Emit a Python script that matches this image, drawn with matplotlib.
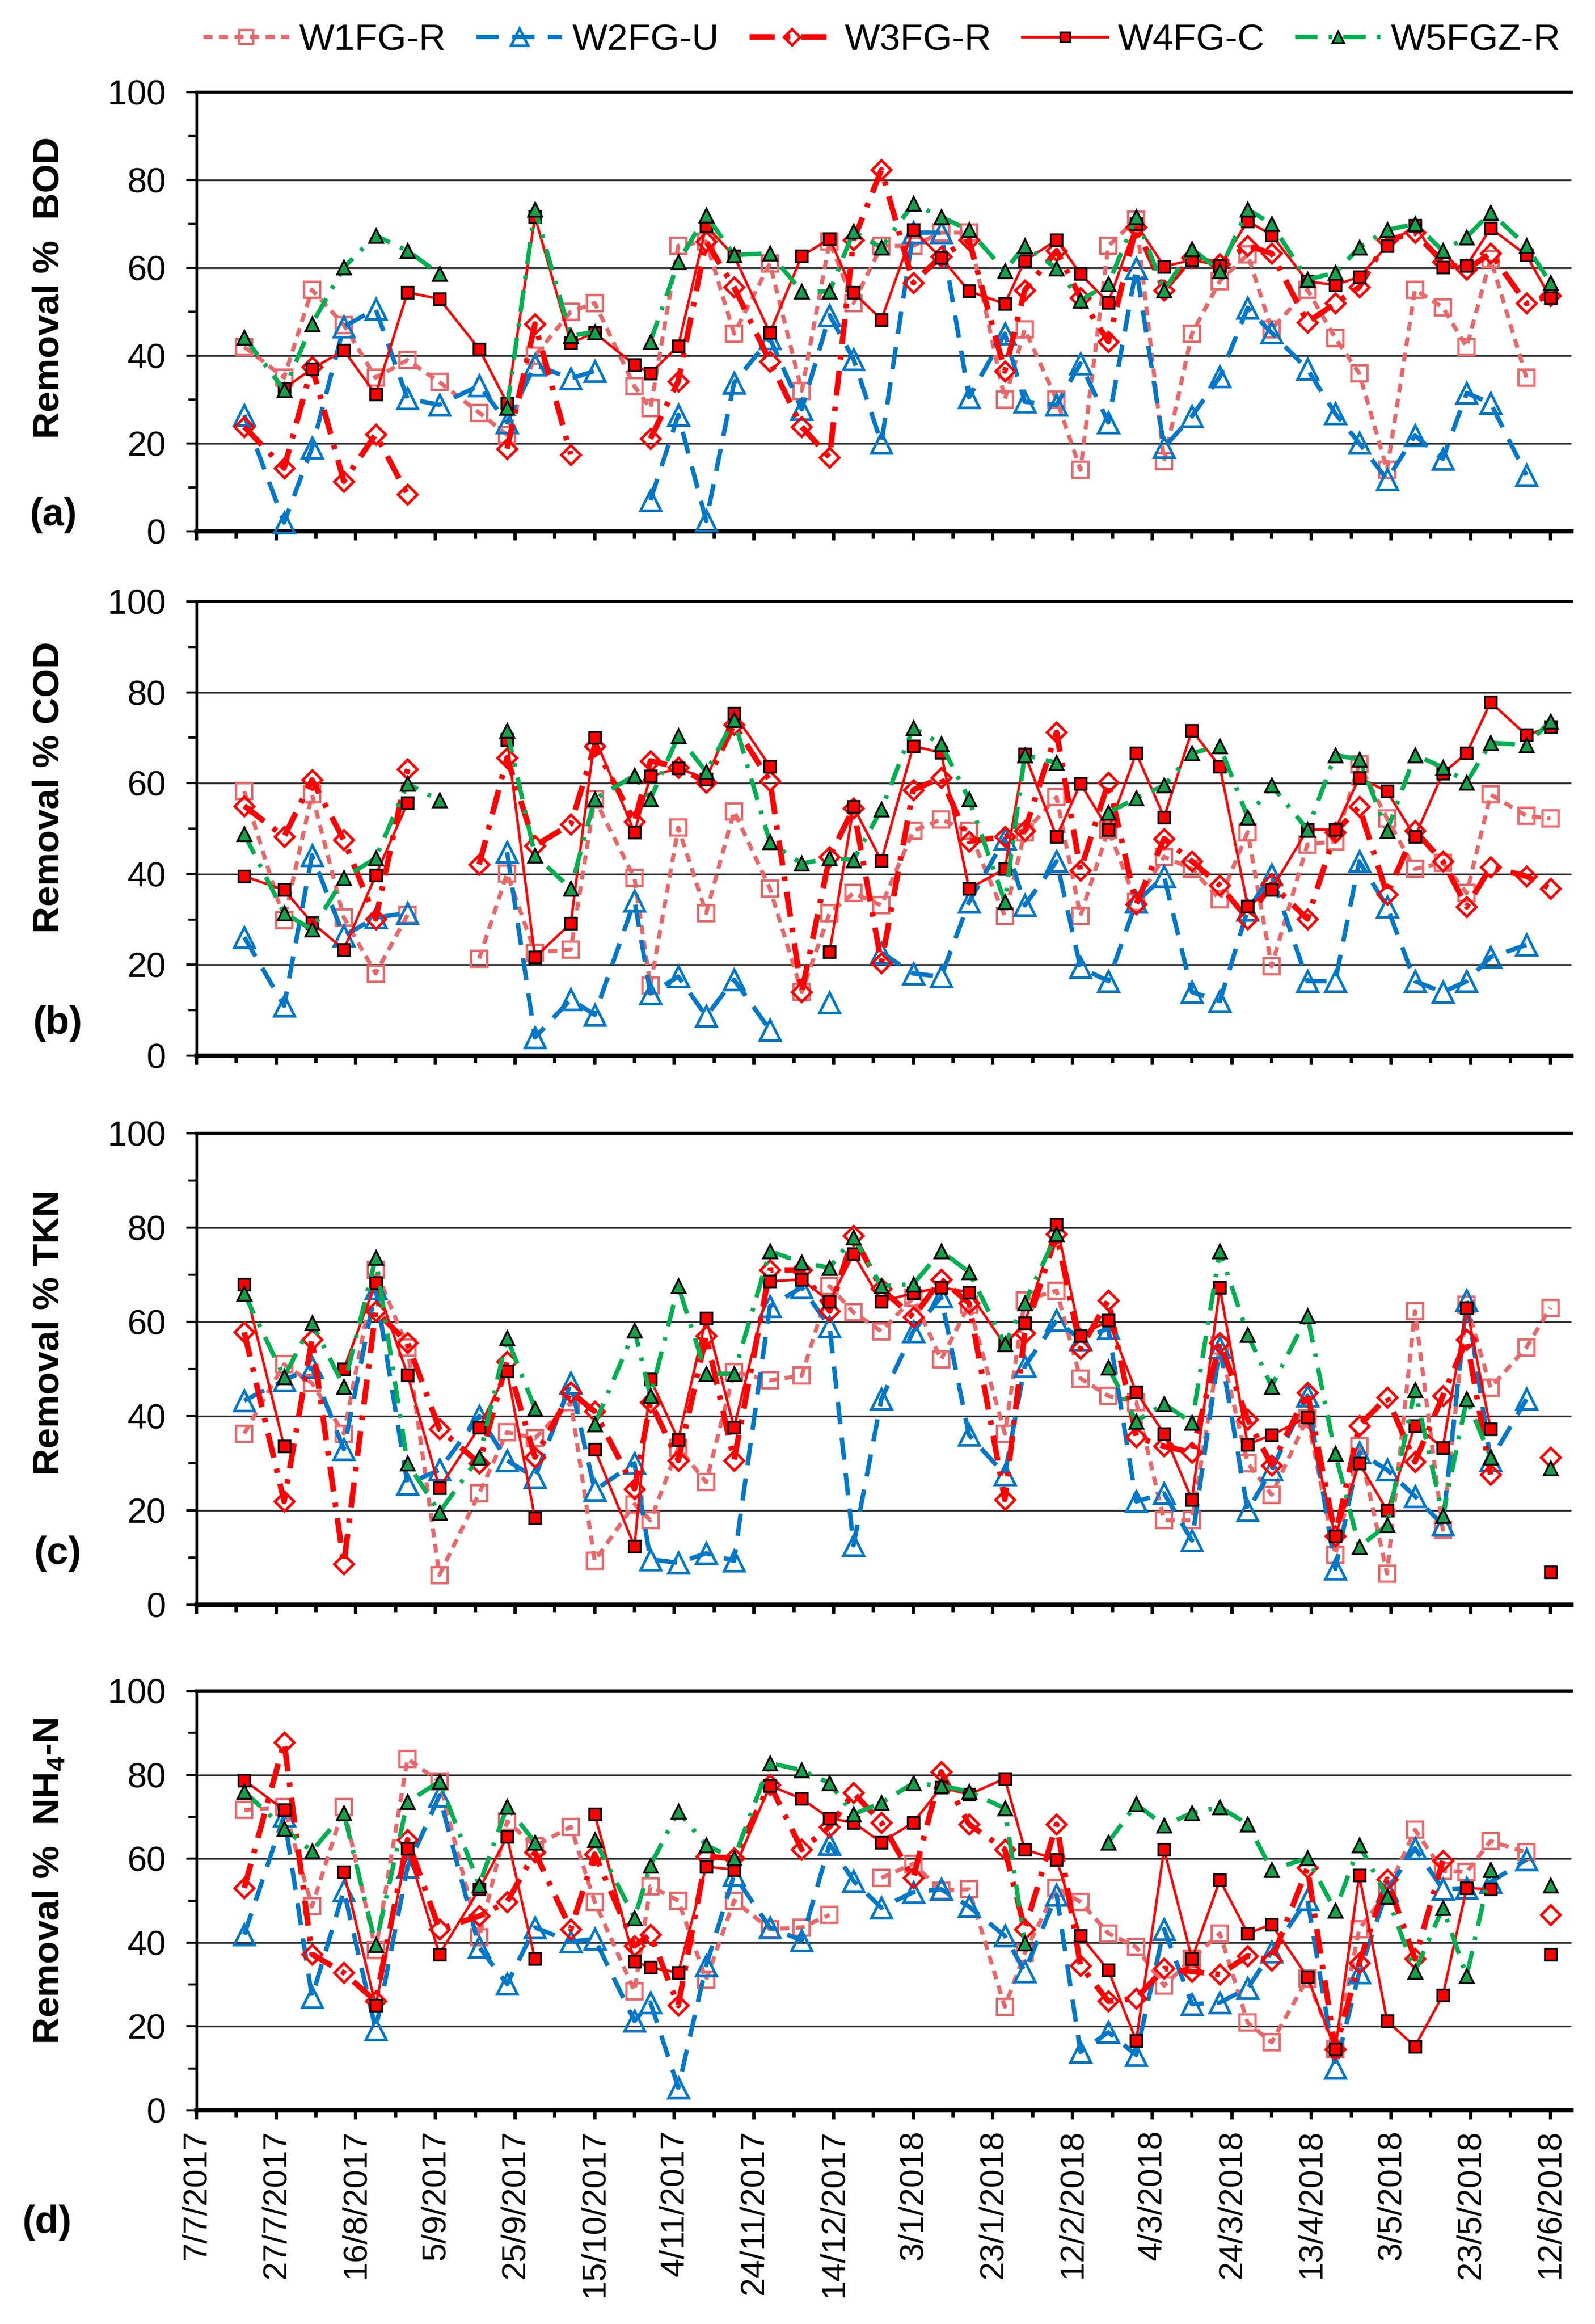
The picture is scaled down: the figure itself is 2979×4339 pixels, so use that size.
import numpy as np
import matplotlib
matplotlib.use('Agg')
import matplotlib.pyplot as plt
import matplotlib.dates as mdates
from matplotlib.ticker import FixedLocator, MultipleLocator, NullFormatter
from datetime import datetime, timedelta

plt.rcParams['font.family'] = ['Liberation Sans', 'DejaVu Sans']
plt.rcParams['mathtext.fontset'] = 'custom'
plt.rcParams['mathtext.rm'] = 'Liberation Sans'
plt.rcParams['mathtext.bf'] = 'Liberation Sans:bold'

nan = np.nan

# ---------------- data ----------------
dates = ['2017-07-19', '2017-07-29', '2017-08-05', '2017-08-13', '2017-08-21', '2017-08-29',
         '2017-09-06', '2017-09-16', '2017-09-23', '2017-09-30', '2017-10-09', '2017-10-15',
         '2017-10-25', '2017-10-29', '2017-11-05', '2017-11-12', '2017-11-19', '2017-11-28',
         '2017-12-06', '2017-12-13', '2017-12-19', '2017-12-26', '2018-01-03', '2018-01-10',
         '2018-01-17', '2018-01-26', '2018-01-31', '2018-02-08', '2018-02-14', '2018-02-21',
         '2018-02-28', '2018-03-07', '2018-03-14', '2018-03-21', '2018-03-28', '2018-04-03',
         '2018-04-12', '2018-04-19', '2018-04-25', '2018-05-02', '2018-05-09', '2018-05-16',
         '2018-05-22', '2018-05-28', '2018-06-06', '2018-06-12']

series_names = ['W1FG-R', 'W2FG-U', 'W3FG-R', 'W4FG-C', 'W5FGZ-R']

# (a) BOD removal %
bod_w1 = [42, 35, 55, 47, 35, 39, 34, 27, 22, 40, 50, 52, 33, 28, 65, 66, 45, 61, 32, 66, 52, 65,
          65, 68, 68, 30, 46, 30, 14, 65, 71, 16, 45, 57, 63, 46, 55, 44, 36, 14, 55, 51, 42, 62, 35, nan]
bod_w2 = [26.5, 2, 19, 46.6, 50.6, 30.2, 28.8, 33.2, 24.8, 37.9, 34.8, 36.5, nan, 7.1, 26.5, 2.4,
          33.8, 43.9, 27.8, 49.2, 39.2, 20.1, 68, 68, 30.5, 45, 29.5, 28.8, 38.2, 24.8, 59.9, 19.1,
          26.2, 35.2, 50.9, 45.2, 36.9, 26.8, 20.1, 11.8, 21.8, 16.5, 31.5, 29.2, 12.8, nan]
bod_w3 = [23.8, 14.4, 37.5, 11.4, 22.1, 8.4, nan, nan, 18.8, 47.2, 17.5, nan, nan, 21.1, 34.2, 66,
          55.6, 38.7, 23.8, 16.8, 66.3, 82.3, 56.6, 62.6, 66.3, 36.5, 54.9, 63.9, 53.2, 43.2, 69.3,
          54.9, 62.3, 60.9, 65, 63.3, 47.6, 51.9, 55.6, 66.3, 68, 61.3, 59.6, 63.3, 51.9, 53.6]
bod_w4 = [nan, 32.5, 37, 41.2, 31.2, 54.4, 52.9, 41.5, 29.2, 71.6, 42.9, 45.2, 37.9, 36, 42.2, 69.5,
          62.7, 45.2, 62.7, 66.6, 54.4, 48.2, 68.6, 62.3, 54.7, 51.8, 61.6, 66.3, 58.6, 52.1, 70,
          60.3, 61.8, 60.5, 70.6, 67.5, 56.9, 56.1, 57.9, 65, 69.6, 60.1, 60.5, 69, 62.9, 53.2]
bod_w5 = [44.2, 32.2, 47.2, 60.1, 67.3, 63.9, 58.6, nan, 28.2, 73.3, 44.5, 45.4, nan, 43.2, 61.3, 72,
          62.9, 63.3, 54.6, 54.6, 68.3, 64.6, 74.6, 71.6, 68.6, 59.3, 65, 59.9, 52.6, 56.3, 71.6,
          54.9, 64.3, 59.3, 73.3, 70, 57.3, 58.9, 64.6, 68.6, 70, 63.9, 67, 72.6, 65, 56.6]

# (b) COD removal %
cod_w1 = [58.2, 29.8, 57.5, 30.4, 18.1, 31, nan, 21.4, 40.1, 22.7, 23.4, 56.5, 39.1, 15.4, 50.2, 31.4,
          53.8, 36.8, 14, 31.4, 35.8, 33.1, 49.5, 52, 49.5, 30.8, 49.2, 56.9, 30.8, 49.8, 33.8, 43.8,
          41.1, 34.4, 49.2, 19.7, 46.5, 47.2, 64.2, 52.2, 41.1, 42.5, 35.8, 57.5, 52.8, 52.2]
cod_w2 = [26.1, 11, 44.1, 26.4, 30.4, 31.4, nan, nan, 44.8, 4, 12.4, 9, 34.1, 13.7, 17.4, 8.7, 16.7,
          5.7, nan, 11.7, nan, 22.7, 18.1, 17.4, 33.8, 47.8, 33.1, 42.8, 19.4, 16.4, 33.8, 39.5, 14,
          12, 32.1, 39.8, 16.4, 16.4, 42.8, 32.8, 16.4, 14, 16.4, 21.7, 24.4, nan]
cod_w3 = [55, 48.2, 60.7, 47.5, 30.1, 63.1, nan, 42.1, 65.6, 46.2, 51, 68.2, 51.5, 64.9, 63.5, 60.2,
          72.9, 60.5, 14, 43.8, 54.5, 20.4, 58.5, 61.2, 47.2, 48.2, 49.5, 71.2, 40.8, 60.2, 33.4,
          47.8, 42.8, 37.5, 30.1, 37.8, 30.1, 49.2, 54.8, 35.5, 49.5, 42.8, 32.8, 41.5, 39.5, 36.8]
cod_w4 = [39.5, 36.5, 29.3, 23.4, 39.7, 55.7, nan, nan, 69.6, 21.7, 29.1, 70, 49.2, 61.5, 63.3, 60.9,
          75.3, 63.7, nan, 22.9, 54.8, 42.9, 68.2, 66.7, 36.8, 41.1, 66.4, 48.2, 59.9, 49.8, 66.6,
          52.5, 71.6, 63.7, 32.9, 36.6, 49.8, 49.8, 61.2, 58.2, 48.2, 62.2, 66.6, 77.8, 70.6, 72.4]
cod_w5 = [48.8, 31.4, 27.8, 39.1, 43.5, 59.9, 56.2, nan, 71.6, 44.1, 36.8, 56.5, 61.7, 56.5, 70.4,
          62.5, 73.9, 47, 42.3, 43.5, 43.1, 54.2, 72.2, 68.6, 56.5, 33.9, 66.2, 64.5, nan, 53.5,
          56.7, 59.5, 66.6, 68.2, 52.5, 59.5, 49.8, 66.2, 65.2, 49.5, 66.2, 63.5, 60.2, 68.9, 68.4, 73.6]

# (c) TKN removal %
tkn_w1 = [36.3, 51, 47, 36.3, 71, 54.6, 6.3, 23.6, 36.6, 35.3, 43, 9.3, 21.3, 17.9, 33.3, 26, 49.3,
          47.6, 48.6, 67.6, 62, 58, 65.1, 52, 63.6, 36.3, 64.6, 66.6, 48, 44.3, 43, 17.9, 17.9, 55,
          30, 23.3, 39.6, 10.6, 33.6, 6.6, 62.3, 15.9, 63.6, 46, 54.6, 63]
tkn_w2 = [43.3, 47.6, 50.3, 33, 67, 25.6, 28.6, 40, 30.6, 27, 47, 24.3, 30, 9.6, 8.9, 10.9, 9.3,
          63.3, 67.3, 59, 12.6, 43.6, 58, 65.3, 36, 27.6, 50.6, 60.3, 56.3, 58.6, 21.9, 23.6, 13.6,
          54.6, 20, 28.6, 44.3, 7.6, 32.3, 28.6, 23, 16.9, 64.6, 30.6, 43.6, nan]
tkn_w3 = [57.8, 21.9, 56.3, 8.6, 62.3, 55.6, 37.3, 30, 51.6, 31.3, 45.1, 41, 24.6, 43, 30.6, 57, 30.6,
          71, 71, 62.3, 78.3, 67, 61, 69, 64, 22.3, 57.6, 78.6, 54.3, 64.6, 35.6, 33.6, 32.3, 55.6,
          39.3, 29.6, 45, 14.6, 38, 44, 30.3, 44.3, 56.3, 27.6, nan, 31.3]
tkn_w4 = [68, 33.6, nan, 50, 68.3, 48.8, 24.8, 37.6, 49.6, 18.4, nan, 33, 12.4, 47.8, 35, 60.8, 37.6,
          68.6, 69, 64.3, 74.4, 64.3, 66.1, 67.3, 66.3, 55.1, 59.8, 80.7, 57, 60.3, 45.1, 36.3, 22.3,
          67.3, 34, 36, 39.8, 14.6, 30, 20, 38, 33.3, 63, 37.3, nan, 6.9]
tkn_w5 = [66, 48.3, 59.8, 46.3, 73.6, 30, 19.6, 31.3, 56.6, 41.6, nan, 38.3, 58.2, 44.3, 67.6, 49, 49,
          75, 72.6, 71.5, 78, 67.6, 68, 75, 70.6, 55.3, 64, 78.6, nan, 50.3, 38.9, 42.6, 38.6, 75,
          57.3, 46.3, 61.3, 32, 12.3, 16.9, 45.6, 18.9, 43.6, 31.3, nan, 29]

# (d) NH4-N removal %
nh4_w1 = [71.6, 72.3, 48.6, 72.3, 38.2, 83.8, 78.4, 41.2, 68.9, 63, 67.6, 49.7, 28.4, 53.4, 50, 31.1,
          50, 43.2, 43.6, 46.6, nan, 55.4, 58.8, 52.4, 52.7, 24.7, 37.5, 53, 49.7, 42.2, 38.9, 29.7,
          36.1, 42.2, 20.9, 16.2, 31.4, 14.5, 43.2, 52, 66.9, 57.1, 56.8, 64.2, 61.5, nan]
nh4_w2 = [41.9, 70.3, 27, 52.4, 19.3, 58, 75, 38.9, 30.1, 43.6, 40.2, 40.9, 21.3, 25.7, 5.4, 34.5,
          56.1, 43.6, 40.5, 63.5, 54.7, 48.3, 52, 52.7, 48.6, 41.6, 33.1, 51.4, 13.9, 18.6, 13.2,
          43.2, 25.3, 25.7, 29.1, 37.8, 50.3, 10.1, 32.8, 52.4, 62.5, 52.7, 53, 54.4, 59.8, nan]
nh4_w3 = [53, 87.8, 37.2, 32.8, 26, 64.5, 43.2, 46.3, 49.7, 61.5, 43.2, 61.1, 39.2, 41.9, 25, 60.5,
          60.1, 77.7, 62.2, 67.6, 75.7, 68.6, 55.4, 80.7, 68.2, 62.2, 43.2, 68.2, 34.5, 26, 26.7,
          33.8, 33.1, 32.4, 36.8, 35.8, 57.8, 14.5, 35.1, 55.1, 36.1, 59.5, nan, nan, nan, 46.6]
nh4_w4 = [78.7, 71.6, nan, 56.8, 25, 62.5, 37.2, 52.7, 65.2, 36.1, nan, 70.6, 35.5, 34.1, 32.8, 58.1,
          57.4, 77.4, 74.3, 69.6, 68.6, 63.9, 68.6, 77, 75.3, 79.1, 62.2, 59.8, 41.6, 33.4, 16.6,
          62.2, 36.1, 54.9, 42.2, 44.3, 31.8, 14.5, 56.1, 21.3, 15.2, 27.4, 53, 52.7, nan, 37.2]
nh4_w5 = [76, 67.2, 61.8, 70.9, 39.5, 73.5, 78.4, 53.7, 72.4, 63.9, nan, 64.5, 45.9, 58.4, 71.3, 63.2,
          60.1, 82.8, 81.1, 78, 70.6, 73.3, 78, 77.4, 76, 72, 39.9, nan, nan, 63.9, 73, 67.9, 70.9,
          72.3, 68.2, 57.4, 60.1, 47.6, 63.2, 51, 33.1, 48.3, 32.1, 57.4, nan, 53.7]

panel_letters = ['(a)', '(b)', '(c)', '(d)']
ylabels = ['Removal %  BOD', 'Removal % COD', 'Removal % TKN', r'Removal %  NH$_{\mathbf{4}}$-N']
panels = [[bod_w1, bod_w2, bod_w3, bod_w4, bod_w5],
          [cod_w1, cod_w2, cod_w3, cod_w4, cod_w5],
          [tkn_w1, tkn_w2, tkn_w3, tkn_w4, tkn_w5],
          [nh4_w1, nh4_w2, nh4_w3, nh4_w4, nh4_w5]]

# ---------------- styles ----------------
styles = [
    dict(color='#E8686A', lw=5.5, ls=(0, (2.2, 1.6)), marker='s', ms=22, mfc='none',
         mec='#E8686A', mew=3.2),
    dict(color='#0077C8', lw=6.0, ls=(0, (5, 3)), marker='^', ms=27, mfc='none',
         mec='#0077C8', mew=3.6),
    dict(color='#FF0000', lw=7.5, ls=(0, (4.5, 2, 0.8, 2)), marker='D', ms=18, mfc='none',
         mec='#FF0000', mew=3.6),
    dict(color='#FF0000', lw=3.4, ls='-', marker='s', ms=16, mfc='#FF0000',
         mec='black', mew=2.5),
    dict(color='#00B050', lw=6.0, ls=(0, (5, 2.5, 0.8, 2.5)), marker='^', ms=19, mfc='#18A04A',
         mec='black', mew=2.5),
]

x = np.array([datetime.strptime(d, '%Y-%m-%d') for d in dates])
start = datetime(2017, 7, 7)
end = start + timedelta(days=345.3)
minor_ticks = [mdates.date2num(start + timedelta(days=10 * i)) for i in range(35)]
major_ticks = [mdates.date2num(start + timedelta(days=20 * i)) for i in range(18)]
major_labels = ['%d/%d/%d' % ((start + timedelta(days=20 * i)).day,
                              (start + timedelta(days=20 * i)).month,
                              (start + timedelta(days=20 * i)).year) for i in range(18)]

fig = plt.figure(figsize=(29.79, 43.39), dpi=100)

W, H = 2979.0, 4339.0
left = 367 / W
right = 2935 / W
boxes = [(172, 992), (1123, 1971), (2116, 2996), (3157, 3940)]
ylabel_y = [537, 1470, 2488, 3512]
letter_pos = [(100, 962), (108, 1911), (108, 2901), (88, 4150)]

axes = []
for i, (top_px, bot_px) in enumerate(boxes):
    ax = fig.add_axes([left, 1 - bot_px / H, right - left, (bot_px - top_px) / H])
    axes.append(ax)
    for j in range(5):
        st = styles[j]
        ax.plot(x, np.array(panels[i][j], dtype=float), color=st['color'], lw=st['lw'],
                linestyle=st['ls'], marker=st['marker'], ms=st['ms'], mfc=st['mfc'],
                mec=st['mec'], mew=st['mew'], label=series_names[j], zorder=3 + j,
                clip_on=False)
    ax.set_ylim(0, 100)
    ax.set_xlim(mdates.date2num(start), mdates.date2num(end))
    ax.yaxis.set_major_locator(MultipleLocator(20))
    ax.yaxis.set_minor_locator(MultipleLocator(10))
    ax.xaxis.set_major_locator(FixedLocator(major_ticks))
    ax.xaxis.set_minor_locator(FixedLocator(minor_ticks))
    if i == 3:
        ax.set_xticklabels(major_labels, rotation=90, fontsize=45)
    else:
        ax.xaxis.set_major_formatter(NullFormatter())
    ax.tick_params(axis='y', which='major', direction='out', length=14, width=3,
                   labelsize=47, pad=27)
    ax.tick_params(axis='y', which='minor', direction='out', length=11, width=3)
    ax.tick_params(axis='x', which='major', direction='out', length=12, width=4.5, pad=14)
    ax.tick_params(axis='x', which='minor', direction='out', length=10, width=4.5)
    for yv in (20, 40, 60, 80):
        ax.axhline(yv, color='#303030', lw=2.4, zorder=1)
    ax.spines['right'].set_visible(False)
    ax.spines['top'].set_linewidth(4)
    ax.spines['left'].set_linewidth(3.6)
    ax.spines['bottom'].set_linewidth(6)
    fig.text(92 / W, 1 - ylabel_y[i] / H, ylabels[i], rotation=90, ha='center', va='center',
             fontsize=50, fontweight='bold')
    lx, ly = letter_pos[i]
    fig.text(lx / W, 1 - ly / H, panel_letters[i], ha='center', va='center',
             fontsize=52, fontweight='bold')

handles, labels = axes[0].get_legend_handles_labels()
fig.legend(handles, labels, loc='center', bbox_to_anchor=(0.553, 1 - 75 / H), ncol=5,
           frameon=False, fontsize=50, handlelength=2.3, handletextpad=0.27,
           columnspacing=0.82, markerscale=0.85)

fig.savefig('out.png', dpi=100)
